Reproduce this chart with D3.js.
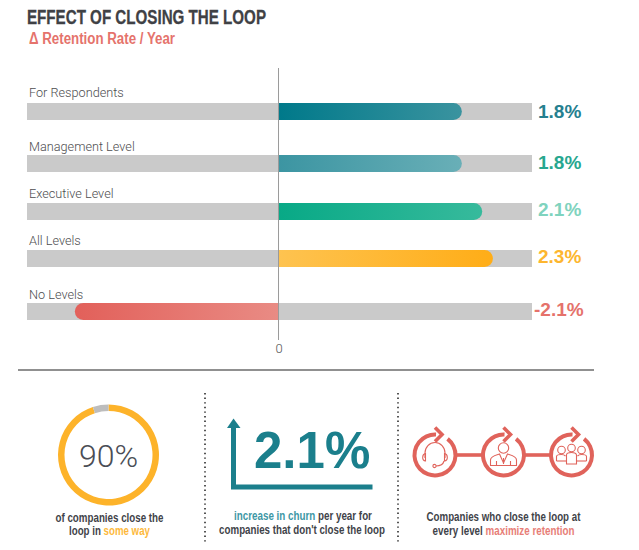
<!DOCTYPE html>
<html>
<head>
<meta charset="utf-8">
<script src="https://cdn.jsdelivr.net/npm/d3@7"></script>
<style>
  body { margin: 0; background: #fff; }
  svg { display: block; }
  text { font-family: "Liberation Sans", sans-serif; }
  .narrow { font-family: "Liberation Sans Narrow", "Liberation Sans", sans-serif; font-weight: 700; }
  .cat { font-family: Roboto, sans-serif; font-weight: 300; font-size: 12.7px; fill: #4d4d4f; }
  .val { font-weight: 700; font-size: 19px; }
  .caption { font-size: 12px; fill: #3f4349; }
</style>
</head>
<body>
<div id="chart"></div>
<script>
// data
const categories = ["For Respondents", "Management Level", "Executive Level", "All Levels", "No Levels"];
const barValues = [1.89, 1.89, 2.1, 2.21, -2.1]; // drawn lengths, the original isn't quite to scale
const valueLabels = ["1.8%", "1.8%", "2.1%", "2.3%", "-2.1%"];
const labelColors = ["#25808f", "#27a78f", "#7fd3be", "#fdb62f", "#e5726b"];
const gradStart = ["#00798a", "#3c95a2", "#08a986", "#fec350", "#e2605a"];
const gradEnd = ["#3a939f", "#69afb7", "#37ba9c", "#ffad17", "#e98b84"];
const axisTicks = [0];
const ringValues = [95, 5];
const ringColors = ["#fdb32a", "#bdbdbd"];

const width = 639, height = 550;
const red = "#e0635b", teal = "#1b7f8c";

const svg = d3.select("#chart").append("svg")
    .attr("width", width)
    .attr("height", height);

// scales
const x = d3.scaleLinear().domain([-2.593, 2.613]).range([27, 532]);
const rowTop = d3.scaleOrdinal().domain(categories).range([103, 155, 203, 250, 303]);
const labelBase = d3.scaleOrdinal().domain(categories).range([97, 151, 198, 245, 299]);
const valueBase = d3.scaleOrdinal().domain(categories).range([118, 169, 216, 263, 316]);
const barH = 17;

// title
svg.append("text").attr("class", "narrow")
    .attr("x", 27).attr("y", 24)
    .attr("font-size", 21).attr("fill", "#3f4145")
    .attr("stroke", "#3f4145").attr("stroke-width", 0.3)
    .attr("textLength", 239).attr("lengthAdjust", "spacingAndGlyphs")
    .text("EFFECT OF CLOSING THE LOOP");
svg.append("text").attr("class", "narrow")
    .attr("x", 29).attr("y", 44)
    .attr("font-size", 16).attr("fill", "#e5736c")
    .attr("textLength", 146).attr("lengthAdjust", "spacingAndGlyphs")
    .text("Δ Retention Rate / Year");

// gradients
const defs = svg.append("defs");
categories.forEach((c, i) => {
    const g = defs.append("linearGradient").attr("id", "grad" + i);
    g.append("stop").attr("offset", "0%").attr("stop-color", gradStart[i]);
    g.append("stop").attr("offset", "100%").attr("stop-color", gradEnd[i]);
});

// grey tracks
svg.selectAll(".track").data(categories).enter().append("rect")
    .attr("class", "track")
    .attr("x", x.range()[0])
    .attr("y", d => rowTop(d))
    .attr("width", x.range()[1] - x.range()[0])
    .attr("height", barH)
    .attr("fill", "#cacaca");

// bars, rounded only on the far end
function barPath(v, top) {
    const x0 = x(0), x1 = x(v), r = barH / 2;
    const p = d3.path();
    const dir = v >= 0 ? 1 : -1;
    p.moveTo(x0, top);
    p.lineTo(x1 - dir * r, top);
    p.arc(x1 - dir * r, top + r, r, -Math.PI / 2, Math.PI / 2, dir < 0);
    p.lineTo(x0, top + barH);
    p.closePath();
    return p.toString();
}
svg.selectAll(".bar").data(categories).enter().append("path")
    .attr("class", "bar")
    .attr("d", (d, i) => barPath(barValues[i], rowTop(d)))
    .attr("fill", (d, i) => `url(#grad${i})`);

// zero line and tick
svg.append("line")
    .attr("x1", x(0)).attr("x2", x(0))
    .attr("y1", 68).attr("y2", 340)
    .attr("stroke", "#9a9a9a").attr("stroke-width", 1);
const axis = svg.append("g")
    .attr("transform", "translate(0,340)")
    .call(d3.axisBottom(x).tickValues(axisTicks).tickSize(0).tickPadding(4).tickFormat(d3.format("d")));
axis.select(".domain").remove();
axis.selectAll("text")
    .style("font-family", "Roboto, sans-serif").style("font-weight", 300)
    .attr("font-size", 13).attr("fill", "#555");

// labels
svg.selectAll(".cat").data(categories).enter().append("text")
    .attr("class", "cat")
    .attr("x", 29)
    .attr("y", d => labelBase(d))
    .text(d => d);
svg.selectAll(".val").data(categories).enter().append("text")
    .attr("class", "val")
    .attr("x", (d, i) => i === 4 ? 534 : 538)
    .attr("y", d => valueBase(d))
    .attr("fill", (d, i) => labelColors[i])
    .text((d, i) => valueLabels[i]);

// divider
svg.append("line")
    .attr("x1", 18).attr("x2", 594).attr("y1", 370).attr("y2", 370)
    .attr("stroke", "#6b6b6b").attr("stroke-width", 1.4);

// dotted separators
[205, 398].forEach(px => {
    svg.append("line")
        .attr("x1", px).attr("x2", px).attr("y1", 393).attr("y2", 543)
        .attr("stroke", "#555").attr("stroke-width", 2)
        .attr("stroke-dasharray", "1.4 3.2");
});

// narrow font isn't always there, so squeeze each line to the measured width
function caption(cx, y, w, parts) {
    const t = svg.append("text").attr("class", "narrow caption")
        .attr("text-anchor", "middle");
    parts.forEach(p => {
        const s = t.append("tspan").text(p[0]);
        if (p[1]) s.attr("fill", p[1]);
    });
    const k = w / t.node().getComputedTextLength();
    t.attr("transform", `translate(${cx},${y}) scale(${k},1)`);
}

// panel 1: ring
const ringG = svg.append("g").attr("transform", "translate(108.5,455)");
const pie = d3.pie().sort(null);
const ringArc = d3.arc().innerRadius(44).outerRadius(50.5);
ringG.selectAll("path").data(pie(ringValues)).enter().append("path")
    .attr("d", ringArc)
    .attr("fill", (d, i) => ringColors[i]);
ringG.append("text")
    .attr("text-anchor", "middle").attr("y", 11.5)
    .style("font-family", "Roboto, sans-serif").style("font-weight", 300)
    .attr("font-size", 32).attr("fill", "#4a4d55")
    .text("90%");
caption(109.5, 522, 108, [["of companies close the"]]);
caption(109.5, 535, 81, [["loop in "], ["some way", "#fdb93c"]]);

// panel 2: arrow and number
svg.append("path")
    .attr("d", "M233.5 426V487H372.5")
    .attr("fill", "none").attr("stroke", teal).attr("stroke-width", 5);
svg.append("path")
    .attr("d", "M233.5 418.5L240.5 428H227Z")
    .attr("fill", teal);
svg.append("text")
    .attr("x", 254).attr("y", 468)
    .attr("font-size", 51).attr("font-weight", 700).attr("fill", teal)
    .text("2.1%");
caption(303, 519.5, 138, [["increase in churn", "#3d97a5"], [" per year for"]]);
caption(302, 534, 166, [["companies that don't close the loop"]]);

// panel 3: loop icons
const loopArc = d3.arc().innerRadius(18.5).outerRadius(22.5)
    .startAngle(Math.PI * 0.21).endAngle(Math.PI * 2 + 0.05);
const iconX = [435, 503.5, 571.5];

[[457, 482], [525, 550]].forEach(s => {
    svg.append("line")
        .attr("x1", s[0]).attr("x2", s[1]).attr("y1", 455).attr("y2", 455)
        .attr("stroke", red).attr("stroke-width", 3.6);
});

iconX.forEach((cx, i) => {
    const g = svg.append("g").attr("transform", `translate(${cx},455)`);
    g.append("path").attr("d", loopArc()).attr("fill", red);
    g.append("path")
        .attr("d", "M0 -27.5L7 -20.5L0 -13.5")
        .attr("fill", "none").attr("stroke", red).attr("stroke-width", 3.6);
    const ic = g.append("g")
        .attr("fill", "none").attr("stroke", red).attr("stroke-width", 1.1);
    if (i === 0) { // headset
        ic.append("path").attr("d", "M-10 3V-2A10 10.5 0 0 1 10 -2V3");
        ic.append("path").attr("d", "M-9.5 -1.5C-13 -1 -13.5 5.5 -9.5 6Z");
        ic.append("path").attr("d", "M9.5 -1.5C13 -1 13.5 5.5 9.5 6Z");
        ic.append("path").attr("d", "M9 6C8 10 5 11 1 11");
        ic.append("circle").attr("cx", -0.5).attr("cy", 11).attr("r", 1.6);
    } else if (i === 1) { // person
        ic.append("circle").attr("cx", 0).attr("cy", -7).attr("r", 5.2);
        ic.append("path").attr("d", "M-13 10.5V5C-13 1 -7 0 -4 -1L0 8L4 -1C7 0 13 1 13 5V10.5Z");
        ic.append("path").attr("d", "M0 3V9M-7 6V10.5M7 6V10.5");
    } else { // group of three
        ic.append("circle").attr("cx", -10).attr("cy", -5).attr("r", 3.8);
        ic.append("circle").attr("cx", 0).attr("cy", -7).attr("r", 3.8);
        ic.append("circle").attr("cx", 10).attr("cy", -5).attr("r", 3.8);
        ic.append("path").attr("d", "M-15 6V1.5C-15 0 -13 -0.5 -10 -0.5C-8.5 -0.5 -7 0 -6 1");
        ic.append("path").attr("d", "M-15 6H-5");
        ic.append("path").attr("d", "M15 6V1.5C15 0 13 -0.5 10 -0.5C8.5 -0.5 7 0 6 1");
        ic.append("path").attr("d", "M15 6H5");
        ic.append("path").attr("d", "M-5 9V0C-5 -2 -2 -2.5 0 -2.5C2 -2.5 5 -2 5 0V9Z");
    }
});

caption(503.5, 521, 154, [["Companies who close the loop at"]]);
caption(503.5, 535, 142, [["every level "], ["maximize retention", "#e77e77"]]);
</script>
</body>
</html>
